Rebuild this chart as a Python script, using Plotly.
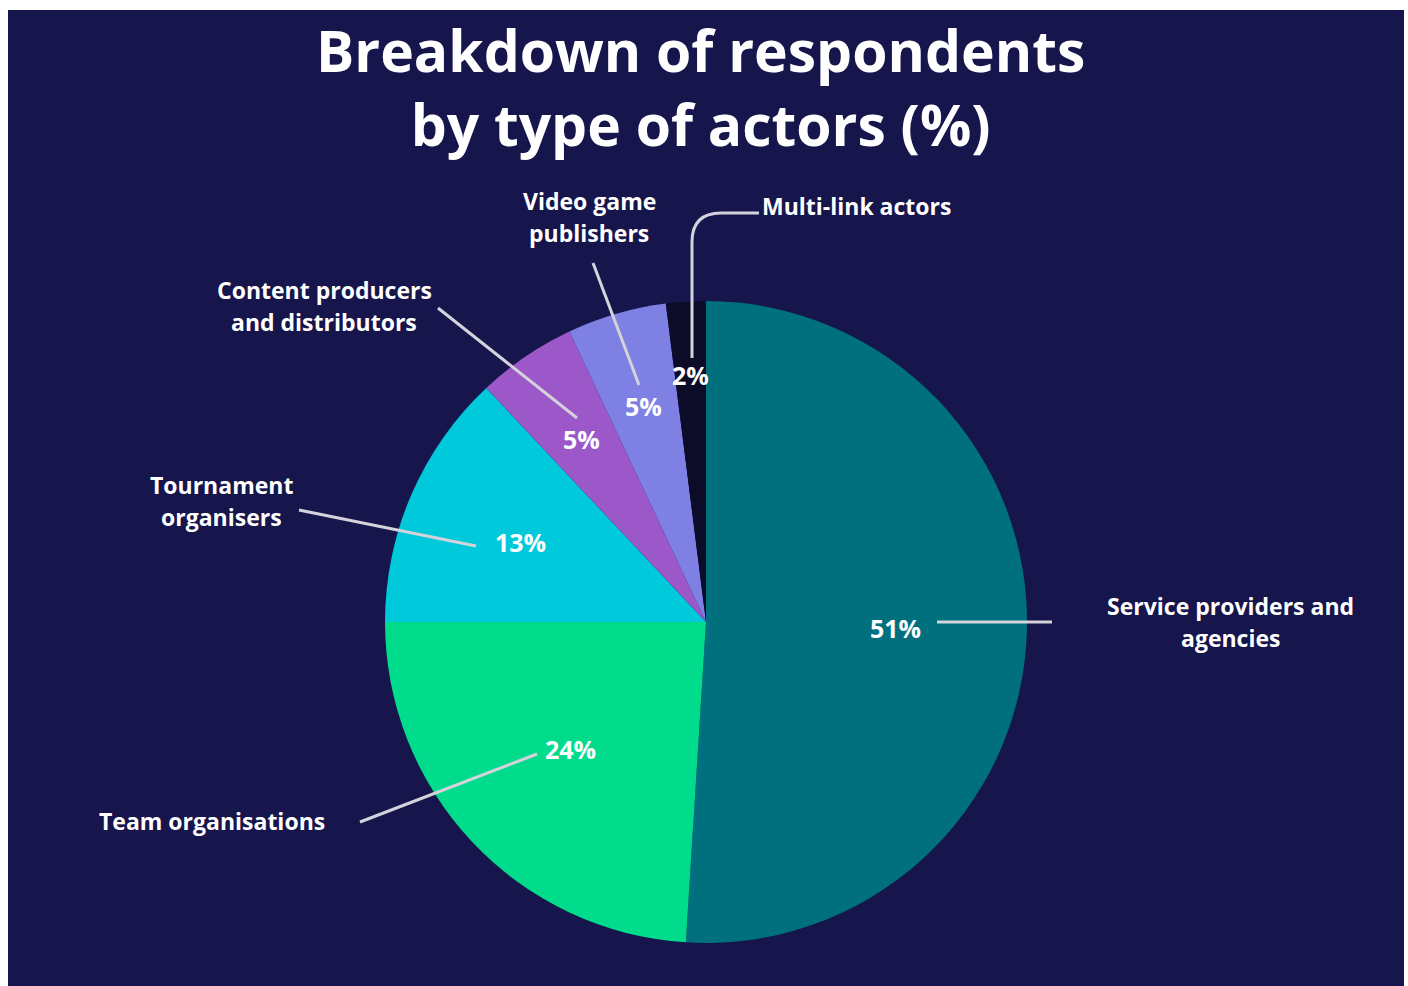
import math
import plotly.graph_objects as go

# Survey breakdown by type of actor (%)
categories = [
    "Service providers and<br>agencies",
    "Team organisations",
    "Tournament<br>organisers",
    "Content producers<br>and distributors",
    "Video game<br>publishers",
    "Multi-link actors",
]
shares = [51, 24, 13, 5, 5, 2]
slice_colors = ["#00707f", "#00db8c", "#00c9dc", "#9c57c9", "#7e80e4", "#0c0b28"]

# Canvas / geometry (pixels)
W, H = 1408, 986
NAVY = "#16154c"
CX, CY, R = 706, 622, 321

# Radial position (fraction of radius) of each percentage label
pct_radius = [0.59, 0.58, 0.63, 0.69, 0.70, 0.77]

# Outer label placement: (x, y of first line, anchor)
label_pos = [
    (1230, 606, "center"),
    (212, 821, "center"),
    (221, 485, "center"),
    (324, 290, "center"),
    (589, 201, "center"),
    (760, 206, "left"),
]
# Leader lines as SVG paths
leader_paths = [
    "M 937 622 L 1052 622",
    "M 537 754 L 360 822",
    "M 476 546 L 299 510",
    "M 577 418 L 438 308",
    "M 639 385 L 593 263",
    "M 692 358 L 692 242 Q 692 213 721 213 L 759 213",
]

FONT = "Open Sans"

fig = go.Figure()
fig.add_trace(go.Pie(
    values=shares,
    labels=categories,
    sort=False,
    direction="clockwise",
    rotation=0,
    marker=dict(colors=slice_colors, line=dict(width=0)),
    textinfo="none",
    hoverinfo="label+percent",
    showlegend=False,
    domain=dict(x=[(CX - R) / W, (CX + R) / W], y=[1 - (CY + R) / H, 1 - (CY - R) / H]),
))

annotations = []
shapes = [
    dict(type="rect", xref="x", yref="y", x0=8, x1=1404, y0=10, y1=H,
         fillcolor=NAVY, line=dict(width=0), layer="below"),
]

# Percent labels at each slice's mid-angle
total = sum(shares)
cum = 0
for v, rf in zip(shares, pct_radius):
    mid = (cum + v / 2) / total * 2 * math.pi
    cum += v
    x = CX + rf * R * math.sin(mid)
    y = CY - rf * R * math.cos(mid)
    annotations.append(dict(
        x=x, y=y, xref="x", yref="y", text=f"{round(v / total * 100)}%",
        showarrow=False, font=dict(family=FONT, size=25, color="white", weight="bold"),
        xanchor="center", yanchor="middle",
    ))

# Category labels, one annotation per line
for name, (lx, ly, anchor) in zip(categories, label_pos):
    for i, line in enumerate(name.split("<br>")):
        annotations.append(dict(
            x=lx, y=ly + i * 32, xref="x", yref="y", text=line, showarrow=False,
            font=dict(family=FONT, size=23, color="white", weight="bold"),
            xanchor=anchor, yanchor="middle",
        ))

for p in leader_paths:
    shapes.append(dict(type="path", xref="x", yref="y", path=p,
                       line=dict(color="#d4d3dc", width=3)))

# Title
annotations.append(dict(
    x=700, y=87, xref="x", yref="y",
    text="Breakdown of respondents<br>by type of actors (%)", showarrow=False,
    font=dict(family=FONT, size=57, color="white", weight="bold"),
    xanchor="center", yanchor="middle", align="center",
))

fig.update_layout(
    width=W, height=H,
    margin=dict(l=0, r=0, t=0, b=0),
    paper_bgcolor="white",
    plot_bgcolor="rgba(0,0,0,0)",
    xaxis=dict(range=[0, W], visible=False, fixedrange=True),
    yaxis=dict(range=[H, 0], visible=False, fixedrange=True),
    shapes=shapes,
    annotations=annotations,
)

fig.write_html("out.html")
